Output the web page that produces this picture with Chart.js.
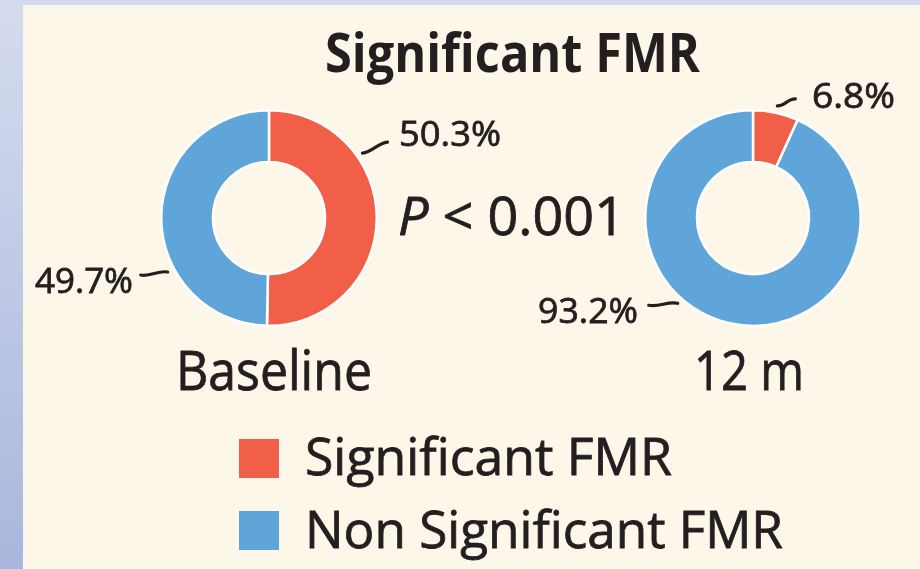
<!DOCTYPE html>
<html>
<head>
<meta charset="utf-8">
<script src="https://cdn.jsdelivr.net/npm/chart.js@4.4.1/dist/chart.umd.min.js"></script>
<style>
  html, body { margin:0; padding:0; }
  body { width:920px; height:569px; overflow:hidden; background:#fdf7ea; position:relative; font-family:'Open Sans', 'Noto Sans', sans-serif; color:#231f20; }
  #stripL { position:absolute; left:0; top:0; width:23px; height:569px; background:linear-gradient(#d5dcef, #aab6dc); }
  #stripT { position:absolute; left:0; top:0; width:920px; height:5px; background:#d3daee; }
  canvas { position:absolute; left:0; top:0; }
  .txt { position:absolute; white-space:nowrap; line-height:1; transform-origin:0 0; display:inline-block; }
  .reg { -webkit-text-stroke:0.8px #231f20; }
  .sq { position:absolute; }
</style>
</head>
<body>
<div id="stripL"></div>
<div id="stripT"></div>
<canvas id="c1" width="920" height="569"></canvas>
<canvas id="c2" width="920" height="569"></canvas>
<script>
// ---- data ----
const categories = ['Significant FMR', 'Non Significant FMR'];
const timepoints = ['Baseline', '12 m'];
const baselineValues = [50.3, 49.7];
const month12Values = [6.8, 93.2];
const chartTitle = 'Significant FMR';
const pValueLabel = '<i>P</i> &lt; 0.001';

// ---- style ----
const colors = ['#f25f48', '#5fa5d9'];
const ink = '#231f20';

function placeText(html, x, baseline, width, size, weight, align) {
  const el = document.createElement('div');
  el.className = 'txt' + ((weight || 400) < 600 ? ' reg' : '');
  el.style.fontSize = size + 'px';
  el.style.fontWeight = weight || 400;
  el.innerHTML = html;
  document.body.appendChild(el);
  const nat = el.getBoundingClientRect().width;
  const s = width / nat;
  const left = align === 'right' ? x - width : x;
  el.style.left = left + 'px';
  el.style.top = (baseline - 0.888 * size) + 'px';
  el.style.transform = 'scaleX(' + s + ')';
  return el;
}

// per-label layout: fraction along arc, leader vector, label offset
const labelLayout = [
  [ {t:0.305, r:6, v:[25,-11], off:[12,-9], align:'left', w:102},
    {t:0.34,  r:7, v:[-27,3],  off:[-8,6],  align:'right', w:98} ],
  [ {t:0.5,   r:7, v:[18,-7],  off:[17,-3], align:'left', w:83},
    {t:0.587, r:6, v:[-29,2],  off:[-11,5], align:'right', w:100} ]
];

function leaderPlugin(idx, values) {
  return {
    id: 'leaders' + idx,
    afterDraw(chart) {
      const ctx = chart.ctx;
      const arcs = chart.getDatasetMeta(0).data;
      arcs.forEach((arc, i) => {
        const L = labelLayout[idx][i];
        const p = arc.getProps(['x','y','startAngle','endAngle','outerRadius'], true);
        const ang = p.startAngle + (p.endAngle - p.startAngle) * L.t;
        const R = p.outerRadius + L.r;
        const sx = p.x + R * Math.cos(ang), sy = p.y + R * Math.sin(ang);
        const ex = sx + L.v[0], ey = sy + L.v[1];
        const len = Math.hypot(L.v[0], L.v[1]);
        const nx = -L.v[1] / len, ny = L.v[0] / len;
        ctx.save();
        ctx.strokeStyle = ink;
        ctx.lineWidth = 3.2;
        ctx.lineCap = 'round';
        ctx.beginPath();
        ctx.moveTo(sx, sy);
        ctx.bezierCurveTo(sx + L.v[0]*0.35 + nx*3, sy + L.v[1]*0.35 + ny*3,
                          sx + L.v[0]*0.65 - nx*3, sy + L.v[1]*0.65 - ny*3, ex, ey);
        ctx.stroke();
        ctx.restore();
        const lx = ex + L.off[0], cy = ey + L.off[1];
        placeText(values[i].toFixed(1) + '%', lx, cy + 12.5, L.w, 35, 400, L.align);
      });
    }
  };
}

function makeDonut(id, idx, values, pad) {
  return new Chart(document.getElementById(id), {
    type: 'doughnut',
    data: {
      labels: categories,
      datasets: [{ data: values, backgroundColor: colors, borderColor: '#ffffff', borderWidth: 2.5, hoverOffset: 0 }]
    },
    options: {
      responsive: false,
      animation: false,
      cutout: '52%',
      layout: { padding: pad },
      plugins: { legend: { display: false }, tooltip: { enabled: false }, title: { display: false } }
    },
    plugins: [leaderPlugin(idx, values)]
  });
}

makeDonut('c1', 0, baselineValues, {left:160, right:542, top:109, bottom:242});
makeDonut('c2', 1, month12Values, {left:644, right:58, top:109, bottom:242});

// title, p-value, timepoints
placeText(chartTitle, 325, 72, 375, 53, 700);
placeText(pValueLabel, 398, 235, 227, 53, 400);
placeText(timepoints[0], 176, 390, 196, 54, 400);
placeText(timepoints[1], 694, 390, 110, 54, 400);

// legend
const legendRows = [{y:439, base:475, w:367}, {y:511, base:548, w:478}];
categories.forEach((c, i) => {
  const sq = document.createElement('div');
  sq.className = 'sq';
  sq.style.left = '239px';
  sq.style.top = legendRows[i].y + 'px';
  sq.style.width = '40px';
  sq.style.height = '39px';
  sq.style.background = colors[i];
  document.body.appendChild(sq);
  placeText(c, 305, legendRows[i].base, legendRows[i].w, 52, 400);
});
</script>
</body>
</html>
